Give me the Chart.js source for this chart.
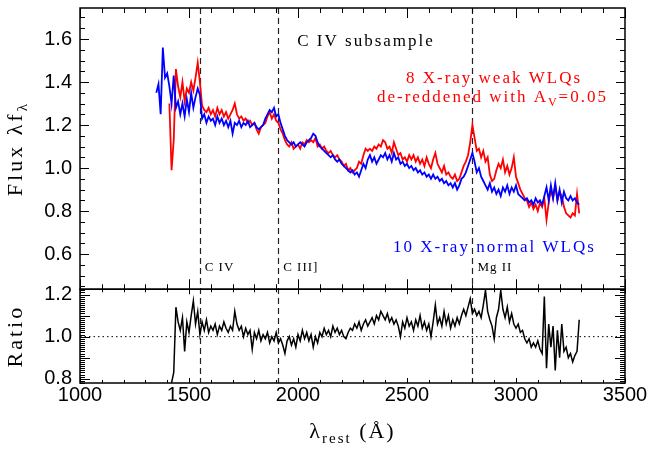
<!DOCTYPE html>
<html>
<head>
<meta charset="utf-8">
<script src="https://cdn.jsdelivr.net/npm/chart.js@4.4.1/dist/chart.umd.min.js"></script>
<style>
  html, body { margin: 0; padding: 0; background: #fff; }
  #wrap { width: 652px; height: 449px; }
</style>
</head>
<body>
<div id="wrap"><canvas id="myChart" width="652" height="449"></canvas></div>
<script>
// rest-frame wavelength grid (Angstrom)
const wave = [
  1350,1360,1370,1380,1390,1400,1410,1420,1430,1440,
  1450,1460,1470,1480,1490,1500,1510,1520,1530,1540,
  1550,1560,1570,1580,1590,1600,1610,1620,1630,1640,
  1650,1660,1670,1680,1690,1700,1710,1720,1730,1740,
  1750,1760,1770,1780,1790,1800,1810,1820,1830,1840,
  1850,1860,1870,1880,1890,1900,1910,1920,1930,1940,
  1950,1960,1970,1980,1990,2000,2010,2020,2030,2040,
  2050,2060,2070,2080,2090,2100,2110,2120,2130,2140,
  2150,2160,2170,2180,2190,2200,2210,2220,2230,2240,
  2250,2260,2270,2280,2290,2300,2310,2320,2330,2340,
  2350,2360,2370,2380,2390,2400,2410,2420,2430,2440,
  2450,2460,2470,2480,2490,2500,2510,2520,2530,2540,
  2550,2560,2570,2580,2590,2600,2610,2620,2630,2640,
  2650,2660,2670,2680,2690,2700,2710,2720,2730,2740,
  2750,2760,2770,2780,2790,2800,2810,2820,2830,2840,
  2850,2860,2870,2880,2890,2900,2910,2920,2930,2940,
  2950,2960,2970,2980,2990,3000,3010,3020,3030,3040,
  3050,3060,3070,3080,3090,3100,3110,3120,3130,3140,
  3150,3160,3170,3180,3190,3200,3210,3220,3230,3240,
  3250,3260,3270,3280,3290
];

// 10 X-ray normal WLQs (blue)
const fluxNormal = [
  1.35,1.39,1.25,1.56,1.42,1.44,1.38,1.30,1.43,1.28,
  1.31,1.25,1.30,1.24,1.32,1.26,1.35,1.28,1.33,1.37,
  1.34,1.23,1.25,1.21,1.24,1.22,1.23,1.20,1.24,1.21,
  1.23,1.20,1.22,1.19,1.22,1.16,1.21,1.20,1.22,1.19,
  1.21,1.20,1.22,1.19,1.20,1.21,1.19,1.18,1.19,1.20,
  1.23,1.25,1.27,1.26,1.28,1.24,1.25,1.21,1.18,1.15,
  1.13,1.12,1.11,1.12,1.10,1.11,1.12,1.11,1.10,1.12,
  1.13,1.14,1.16,1.15,1.12,1.10,1.09,1.08,1.07,1.06,
  1.05,1.06,1.04,1.03,1.04,1.02,1.01,1.00,0.99,0.98,
  0.99,0.97,0.98,0.96,0.99,1.02,1.00,1.04,1.06,1.03,
  1.05,1.02,1.04,1.06,1.05,1.07,1.04,1.06,1.03,1.07,
  1.04,1.05,1.02,1.03,1.01,1.02,1.00,1.01,0.99,1.00,
  0.98,0.99,0.97,0.98,0.96,0.97,0.95,0.97,0.95,0.96,
  0.94,0.95,0.93,0.94,0.92,0.93,0.91,0.93,0.90,0.92,
  0.95,0.96,0.98,1.01,1.04,1.07,1.03,0.98,1.00,0.96,
  0.94,0.92,0.90,0.93,0.89,0.91,0.88,0.90,0.87,0.91,
  0.89,0.92,0.88,0.91,0.89,0.92,0.88,0.87,0.86,0.85,
  0.86,0.84,0.85,0.83,0.86,0.84,0.85,0.83,0.87,0.91,
  0.85,0.92,0.86,0.93,0.85,0.90,0.84,0.89,0.86,0.85,
  0.87,0.85,0.86,0.84,0.83
];

// 8 X-ray weak WLQs, de-reddened (red)
const fluxWeak = [
  null,null,null,null,null,null,1.30,0.99,1.13,1.46,
  1.38,1.33,1.40,1.31,1.37,1.35,1.40,1.36,1.42,1.49,
  1.40,1.29,1.27,1.26,1.28,1.25,1.27,1.24,1.28,1.25,
  1.27,1.24,1.26,1.23,1.25,1.27,1.30,1.25,1.23,1.24,
  1.22,1.23,1.21,1.22,1.20,1.21,1.18,1.16,1.19,1.20,
  1.21,1.24,1.26,1.23,1.25,1.22,1.21,1.18,1.16,1.13,
  1.11,1.10,1.12,1.09,1.10,1.11,1.09,1.12,1.11,1.13,
  1.12,1.13,1.12,1.14,1.10,1.11,1.09,1.10,1.08,1.07,
  1.08,1.06,1.05,1.06,1.04,1.03,1.01,1.02,0.99,1.00,
  0.98,0.99,1.00,1.03,1.02,1.06,1.09,1.08,1.09,1.08,
  1.10,1.09,1.11,1.10,1.13,1.12,1.09,1.10,1.07,1.12,
  1.09,1.06,1.07,1.04,1.05,1.03,1.06,1.04,1.06,1.03,
  1.05,1.02,1.04,1.01,1.05,1.02,1.00,1.04,1.07,1.02,
  1.00,0.98,1.01,0.97,0.98,0.96,0.95,0.97,0.94,0.95,
  0.98,1.01,1.03,1.06,1.12,1.20,1.14,1.08,1.09,1.05,
  1.08,1.03,1.05,0.97,0.94,0.95,0.99,1.02,1.00,1.04,
  0.98,1.01,0.97,1.00,1.05,0.96,0.93,0.90,0.88,0.86,
  0.85,0.82,0.84,0.81,0.83,0.80,0.84,0.82,0.86,0.76,
  0.84,0.90,0.86,0.92,0.85,0.89,0.87,0.82,0.79,0.78,
  0.77,0.79,0.78,0.88,0.79
];

// weak / normal ratio (black)
const ratio = [
  null,null,null,null,null,null,null,0.78,0.83,1.14,
  1.07,1.03,1.09,0.93,1.07,1.02,1.10,1.17,1.06,1.12,
  1.01,1.07,1.03,1.08,1.02,1.05,1.03,1.06,1.01,1.05,
  1.03,1.07,1.04,1.02,1.05,1.03,1.12,1.06,1.03,1.05,
  1.00,1.04,1.01,1.03,0.94,1.02,0.99,1.03,0.98,1.01,
  0.99,1.02,0.97,1.00,0.98,1.02,0.97,0.99,0.96,0.92,
  0.98,1.00,0.96,0.99,0.95,1.01,0.98,1.03,0.99,1.02,
  0.98,1.01,0.95,1.00,0.97,1.02,1.00,1.04,1.01,1.03,
  1.00,1.05,1.02,1.04,1.01,1.03,1.00,0.99,1.02,1.04,
  1.03,1.06,1.04,1.07,1.03,1.06,1.08,1.05,1.07,1.09,
  1.06,1.10,1.08,1.12,1.10,1.08,1.11,1.07,1.09,1.06,
  1.08,1.05,1.00,1.07,1.04,1.09,1.05,1.07,1.03,1.08,
  1.05,1.10,1.04,1.07,1.03,1.06,1.00,1.07,1.15,1.06,
  1.09,1.05,1.12,1.06,1.10,1.04,1.08,1.05,1.09,1.06,
  1.10,1.13,1.10,1.14,1.18,1.11,1.13,1.10,1.12,1.09,
  1.15,1.22,1.12,1.08,1.05,0.99,1.09,1.13,1.22,1.13,
  1.09,1.14,1.07,1.11,1.06,1.04,1.06,1.02,1.03,0.99,
  0.97,0.99,0.95,0.97,0.95,0.98,0.94,0.92,1.19,0.85,
  1.06,0.95,1.05,0.84,1.03,0.90,1.06,0.93,0.95,0.90,
  0.92,0.88,0.91,0.93,1.08
];

const xTicks = [1000, 1500, 2000, 2500, 3000, 3500];
const fluxTicks = [0.6, 0.8, 1.0, 1.2, 1.4, 1.6];
const ratioTicks = [0.8, 0.9, 1.0, 1.1, 1.2];
const lineWaves = [1549, 1909, 2800];
const lineNames = ['C IV', 'C III]', 'Mg II'];
const unityRatio = 1.0;

const X_MIN = 1000, X_MAX = 3500;
const SERIF = '"Liberation Serif", "DejaVu Serif", serif';

function pairs(ys) {
  return wave.map((w, i) => ({ x: w, y: ys[i] }));
}

// Chart.js reserves room for half a tick label at both ends of every axis; the frame here needs none
function noPad(s) {
  s.paddingTop = 0; s.paddingBottom = 0; s.paddingLeft = 0; s.paddingRight = 0;
}

// draw a string made of segments, some of them subscripts, centred (or left aligned) on cx,cy
function drawRich(ctx, segs, cx, cy, o) {
  ctx.save();
  ctx.translate(cx, cy);
  if (o.rotate) ctx.rotate(o.rotate);
  ctx.fillStyle = o.color || '#000';
  ctx.textBaseline = 'middle';
  ctx.textAlign = 'left';
  const subSize = Math.round(o.size * 0.7);
  const fontFor = s => (s.sub ? subSize : o.size) + 'px ' + SERIF;
  let total = 0;
  const widths = segs.map(s => {
    ctx.font = fontFor(s);
    ctx.letterSpacing = (o.ls || 0) + 'px';
    const w = ctx.measureText(s.t).width;
    total += w;
    return w;
  });
  let x = o.align === 'left' ? 0 : -total / 2;
  segs.forEach((s, i) => {
    ctx.font = fontFor(s);
    ctx.letterSpacing = (o.ls || 0) + 'px';
    ctx.fillText(s.t, x, s.sub ? o.size * 0.32 : 0);
    x += widths[i];
  });
  ctx.restore();
}

// labels placed in data coordinates of the flux panel
const notes = [
  { segs: [{ t: 'C IV subsample' }], x: 2312, y: 1.586, color: '#000' },
  { segs: [{ t: '8 X-ray weak WLQs' }], x: 2899, y: 1.418, color: '#ff0000' },
  { segs: [{ t: 'de-reddened with A' }, { t: 'V', sub: true }, { t: '=0.05' }], x: 2892, y: 1.330, color: '#ff0000' },
  { segs: [{ t: '10 X-ray normal WLQs' }], x: 2901, y: 0.633, color: '#0000ff' }
];

const idlFrame = {
  id: 'idlFrame',
  beforeDatasetsDraw(chart) {
    const { ctx, chartArea, scales } = chart;
    ctx.save();
    ctx.strokeStyle = '#222';
    ctx.lineWidth = 1.2;
    ctx.setLineDash([6, 4]);
    lineWaves.forEach(w => {
      const px = Math.round(scales.x.getPixelForValue(w)) + 0.5;
      ctx.beginPath();
      ctx.moveTo(px, chartArea.top);
      ctx.lineTo(px, chartArea.bottom);
      ctx.stroke();
    });
    ctx.restore();
  },
  afterDraw(chart) {
    const { ctx, chartArea, scales } = chart;
    const x = scales.x, L = chartArea.left, R = chartArea.right;
    const panels = [
      { s: scales.y, xMaj: 10, xMin: 5, yMaj: 9, yMin: 5, yStep: 0.05, majors: fluxTicks },
      { s: scales.yRatio, xMaj: 5, xMin: 3, yMaj: 10, yMin: 5, yStep: 0.01, majors: ratioTicks }
    ];
    ctx.save();
    ctx.strokeStyle = '#000';
    panels.forEach(p => {
      const T = p.s.top, B = p.s.bottom;
      ctx.lineWidth = 1.5;
      ctx.strokeRect(L, T, R - L, B - T);
      ctx.lineWidth = 1;
      ctx.beginPath();
      for (let w = X_MIN; w <= X_MAX; w += 100) {
        const px = Math.round(x.getPixelForValue(w)) + 0.5;
        const len = (w % 500 === 0) ? p.xMaj : p.xMin;
        ctx.moveTo(px, T); ctx.lineTo(px, T + len);
        ctx.moveTo(px, B); ctx.lineTo(px, B - len);
      }
      const n0 = Math.ceil(p.s.min / p.yStep - 1e-6), n1 = Math.floor(p.s.max / p.yStep + 1e-6);
      for (let k = n0; k <= n1; k++) {
        const v = k * p.yStep;
        const py = Math.round(p.s.getPixelForValue(v)) + 0.5;
        const major = p.majors.some(m => Math.abs(m - v) < 1e-6);
        const len = major ? p.yMaj : p.yMin;
        ctx.moveTo(L, py); ctx.lineTo(L + len, py);
        ctx.moveTo(R, py); ctx.lineTo(R - len, py);
      }
      ctx.stroke();
    });
    ctx.restore();

    // annotations
    notes.forEach(n => {
      drawRich(ctx, n.segs, x.getPixelForValue(n.x), scales.y.getPixelForValue(n.y),
        { size: 17, ls: 2, color: n.color });
    });
    const lineLabelY = scales.y.getPixelForValue(0.54);
    lineWaves.forEach((w, i) => {
      drawRich(ctx, [{ t: lineNames[i] }], x.getPixelForValue(w) + 5, lineLabelY,
        { size: 13, ls: 1, align: 'left' });
    });

    // axis titles
    drawRich(ctx, [{ t: 'Flux λf' }, { t: 'λ', sub: true }], 16, (scales.y.top + scales.y.bottom) / 2,
      { size: 22, ls: 3, rotate: -Math.PI / 2 });
    drawRich(ctx, [{ t: 'Ratio' }], 16, (scales.yRatio.top + scales.yRatio.bottom) / 2,
      { size: 22, ls: 3, rotate: -Math.PI / 2 });
    drawRich(ctx, [{ t: 'λ' }, { t: 'rest', sub: true }, { t: ' (Å)' }], (L + R) / 2, 432,
      { size: 22, ls: 2 });
  }
};

Chart.defaults.font.family = '"Liberation Sans", "DejaVu Sans", sans-serif';
Chart.defaults.color = '#000';

const tickFont = { size: 20 };
const context = document.getElementById('myChart').getContext('2d');
const spectraChart = new Chart(context, {
  type: 'line',
  data: {
    datasets: [{
      label: '10 X-ray normal WLQs',
      data: pairs(fluxNormal),
      yAxisID: 'y',
      borderColor: '#0000ff',
      borderWidth: 1.8,
      order: 1
    }, {
      label: '8 X-ray weak WLQs',
      data: pairs(fluxWeak),
      yAxisID: 'y',
      borderColor: '#ff0000',
      borderWidth: 1.8,
      order: 2
    }, {
      label: 'Ratio',
      data: pairs(ratio),
      yAxisID: 'yRatio',
      borderColor: '#000000',
      borderWidth: 1.5,
      order: 0
    }, {
      label: 'unity',
      data: [{ x: X_MIN, y: unityRatio }, { x: X_MAX, y: unityRatio }],
      yAxisID: 'yRatio',
      borderColor: '#000000',
      borderWidth: 1,
      borderDash: [1.5, 3],
      order: 3
    }]
  },
  options: {
    responsive: false,
    animation: false,
    devicePixelRatio: 1,
    layout: { padding: { left: 0, right: 27, top: 8, bottom: 0 } },
    elements: {
      point: { radius: 0 },
      line: { tension: 0, fill: false }
    },
    plugins: {
      legend: { display: false },
      tooltip: { enabled: false }
    },
    scales: {
      x: {
        type: 'linear',
        position: 'bottom',
        min: X_MIN,
        max: X_MAX,
        grid: { display: false, drawTicks: false },
        border: { display: false },
        ticks: { font: tickFont, padding: 0, autoSkip: false, maxRotation: 0, callback: v => String(v) },
        afterBuildTicks: s => { s.ticks = xTicks.map(v => ({ value: v })); },
        afterFit: s => { s.height = 66; noPad(s); }
      },
      // left boxes are placed in reverse order, so the ratio panel is listed first
      yRatio: {
        type: 'linear',
        position: 'left',
        stack: 'panels',
        stackWeight: 1,
        min: 0.78,
        max: 1.225,
        grid: { display: false, drawTicks: false },
        border: { display: false },
        ticks: { font: tickFont, padding: 8, callback: v => v.toFixed(1) },
        afterBuildTicks: s => { s.ticks = ratioTicks.map(v => ({ value: v })); },
        afterFit: s => { s.width = 80; noPad(s); }
      },
      y: {
        type: 'linear',
        position: 'left',
        stack: 'panels',
        stackWeight: 3,
        min: 0.437,
        max: 1.744,
        grid: { display: false, drawTicks: false },
        border: { display: false },
        ticks: { font: tickFont, padding: 8, callback: v => v.toFixed(1) },
        afterBuildTicks: s => { s.ticks = fluxTicks.map(v => ({ value: v })); },
        afterFit: s => { s.width = 80; noPad(s); }
      }
    }
  },
  plugins: [idlFrame]
});
</script>
</body>
</html>
